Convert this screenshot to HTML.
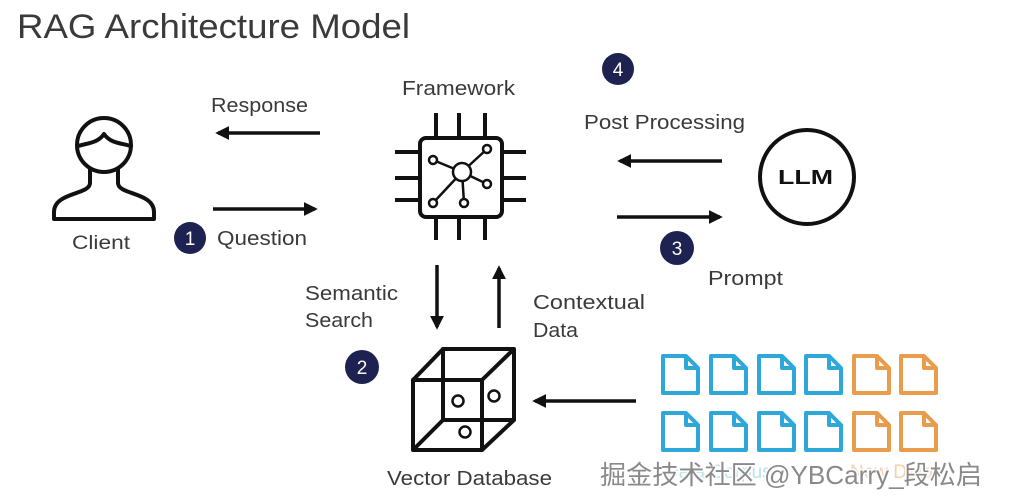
<!DOCTYPE html>
<html>
<head>
<meta charset="utf-8">
<style>
html,body{margin:0;padding:0;background:#fff;}
svg{display:block;}
text{font-family:"Liberation Sans","Noto Sans CJK SC",sans-serif;fill:#3a3a3a;}
</style>
</head>
<body>
<svg width="1024" height="500" viewBox="0 0 1024 500" xmlns="http://www.w3.org/2000/svg">
<defs>
<marker id="ah" markerWidth="4" markerHeight="4" refX="3.2" refY="2" orient="auto" markerUnits="strokeWidth">
<path d="M0,0 L4,2 L0,4 z" fill="#111"/>
</marker>
</defs>
<rect width="1024" height="500" fill="#fff"/>

<!-- Title -->
<text x="17" y="38" font-size="34" textLength="393" lengthAdjust="spacingAndGlyphs" fill="#333">RAG Architecture Model</text>

<!-- Client icon -->
<g fill="none" stroke="#111" stroke-width="4" stroke-linejoin="round" stroke-linecap="round">
<circle cx="104" cy="145" r="27"/>
<path d="M78,146 C88,143 98,143 104,134 C110,143 120,143 131,146"/>
<path d="M90,169 L90,183 C90,195 54,192 54,212 L54,219 L154,219 L154,212 C154,192 118,195 118,183 L118,169"/>
</g>
<text x="72" y="249" font-size="19" textLength="58" lengthAdjust="spacingAndGlyphs" fill="#444">Client</text>

<!-- Response / Question arrows -->
<text x="211" y="112" font-size="20" textLength="97" lengthAdjust="spacingAndGlyphs" fill="#444">Response</text>
<line x1="320" y1="133" x2="218" y2="133" stroke="#111" stroke-width="3.5" marker-end="url(#ah)"/>
<line x1="213" y1="209" x2="315" y2="209" stroke="#111" stroke-width="3.5" marker-end="url(#ah)"/>
<circle cx="190" cy="238" r="16" fill="#1e2251"/>
<text x="190" y="245" font-size="19" text-anchor="middle" style="fill:#fff">1</text>
<text x="217" y="245" font-size="20" textLength="90" lengthAdjust="spacingAndGlyphs" fill="#444">Question</text>

<!-- Framework chip -->
<text x="402" y="95" font-size="20" textLength="113" lengthAdjust="spacingAndGlyphs" fill="#444">Framework</text>
<g stroke="#111" stroke-width="4" fill="none" stroke-linecap="butt">
<rect x="420" y="138" width="82" height="79" rx="6"/>
<line x1="436" y1="113" x2="436" y2="138"/>
<line x1="459" y1="113" x2="459" y2="138"/>
<line x1="485" y1="113" x2="485" y2="138"/>
<line x1="436" y1="217" x2="436" y2="240"/>
<line x1="459" y1="217" x2="459" y2="240"/>
<line x1="485" y1="217" x2="485" y2="240"/>
<line x1="395" y1="152" x2="420" y2="152"/>
<line x1="395" y1="178" x2="420" y2="178"/>
<line x1="395" y1="200" x2="420" y2="200"/>
<line x1="502" y1="152" x2="526" y2="152"/>
<line x1="502" y1="178" x2="526" y2="178"/>
<line x1="502" y1="200" x2="526" y2="200"/>
</g>
<g stroke="#111" stroke-width="2.5" fill="none">
<line x1="462" y1="172" x2="487" y2="149"/>
<line x1="462" y1="172" x2="433" y2="160"/>
<line x1="462" y1="172" x2="487" y2="184"/>
<line x1="462" y1="172" x2="433" y2="203"/>
<line x1="462" y1="172" x2="464" y2="203"/>
<circle cx="462" cy="172" r="9" fill="#fff"/>
<circle cx="487" cy="149" r="4" fill="#fff"/>
<circle cx="433" cy="160" r="4" fill="#fff"/>
<circle cx="487" cy="184" r="4" fill="#fff"/>
<circle cx="433" cy="203" r="4" fill="#fff"/>
<circle cx="464" cy="203" r="4" fill="#fff"/>
</g>

<!-- LLM side -->
<circle cx="618" cy="69" r="16" fill="#1e2251"/>
<text x="618" y="76" font-size="19" text-anchor="middle" style="fill:#fff">4</text>
<text x="584" y="129" font-size="20" textLength="161" lengthAdjust="spacingAndGlyphs" fill="#444">Post Processing</text>
<line x1="722" y1="161" x2="620" y2="161" stroke="#111" stroke-width="3.5" marker-end="url(#ah)"/>
<line x1="617" y1="217" x2="720" y2="217" stroke="#111" stroke-width="3.5" marker-end="url(#ah)"/>
<circle cx="807" cy="177" r="47" fill="none" stroke="#111" stroke-width="4"/>
<text x="778" y="184" font-size="20" font-weight="bold" textLength="55" lengthAdjust="spacingAndGlyphs" style="fill:#111">LLM</text>
<circle cx="677" cy="248" r="17" fill="#1e2251"/>
<text x="677" y="255" font-size="19" text-anchor="middle" style="fill:#fff">3</text>
<text x="708" y="285" font-size="20" textLength="75" lengthAdjust="spacingAndGlyphs" fill="#444">Prompt</text>

<!-- Vertical arrows -->
<line x1="437" y1="265" x2="437" y2="327" stroke="#111" stroke-width="3.5" marker-end="url(#ah)"/>
<line x1="499" y1="328" x2="499" y2="268" stroke="#111" stroke-width="3.5" marker-end="url(#ah)"/>
<text x="305" y="300" font-size="20" textLength="93" lengthAdjust="spacingAndGlyphs" fill="#444">Semantic</text>
<text x="305" y="327" font-size="20" textLength="68" lengthAdjust="spacingAndGlyphs" fill="#444">Search</text>
<text x="533" y="309" font-size="20" textLength="112" lengthAdjust="spacingAndGlyphs" fill="#444">Contextual</text>
<text x="533" y="337" font-size="20" textLength="45" lengthAdjust="spacingAndGlyphs" fill="#444">Data</text>
<circle cx="362" cy="367" r="17" fill="#1e2251"/>
<text x="362" y="374" font-size="19" text-anchor="middle" style="fill:#fff">2</text>

<!-- Cube -->
<g stroke="#111" stroke-width="4" fill="none" stroke-linejoin="round">
<rect x="413" y="380" width="69" height="70"/>
<rect x="443" y="349" width="71" height="71"/>
<line x1="413" y1="380" x2="443" y2="349"/>
<line x1="482" y1="380" x2="514" y2="349"/>
<line x1="413" y1="450" x2="443" y2="420"/>
<line x1="482" y1="450" x2="514" y2="420"/>
</g>
<g stroke="#111" stroke-width="2.5" fill="none">
<circle cx="458" cy="401" r="5.5"/>
<circle cx="494" cy="396" r="5.5"/>
<circle cx="465" cy="432" r="5.5"/>
</g>
<text x="387" y="485" font-size="20" textLength="165" lengthAdjust="spacingAndGlyphs" fill="#444">Vector Database</text>

<!-- Docs to cube arrow -->
<line x1="636" y1="401" x2="535" y2="401" stroke="#111" stroke-width="3.5" marker-end="url(#ah)"/>

<!-- Documents -->
<g fill="none" stroke-width="4" stroke-linejoin="round">
<g stroke="#2ea8d8">
<path d="M663,356 h23 l12,12 v25 h-35 z M686,356 v12 h12"/>
<path d="M711,356 h23 l12,12 v25 h-35 z M734,356 v12 h12"/>
<path d="M759,356 h23 l12,12 v25 h-35 z M782,356 v12 h12"/>
<path d="M806,356 h23 l12,12 v25 h-35 z M829,356 v12 h12"/>
<path d="M663,413 h23 l12,12 v25 h-35 z M686,413 v12 h12"/>
<path d="M711,413 h23 l12,12 v25 h-35 z M734,413 v12 h12"/>
<path d="M759,413 h23 l12,12 v25 h-35 z M782,413 v12 h12"/>
<path d="M806,413 h23 l12,12 v25 h-35 z M829,413 v12 h12"/>
</g>
<g stroke="#e89c4c">
<path d="M854,356 h23 l12,12 v25 h-35 z M877,356 v12 h12"/>
<path d="M901,356 h23 l12,12 v25 h-35 z M924,356 v12 h12"/>
<path d="M854,413 h23 l12,12 v25 h-35 z M877,413 v12 h12"/>
<path d="M901,413 h23 l12,12 v25 h-35 z M924,413 v12 h12"/>
</g>
</g>
<text x="665" y="478" font-size="19" style="fill:#b8e2f2">Data Corpus</text>
<text x="850" y="478" font-size="19" style="fill:#f4d2ae">New Data</text>

<!-- Watermark -->
<text x="600" y="484" font-size="26" textLength="382" lengthAdjust="spacingAndGlyphs" stroke="#fff" stroke-width="3" paint-order="stroke" style="fill:#8a8a8a">掘金技术社区 @YBCarry_段松启</text>
</svg>
</body>
</html>
